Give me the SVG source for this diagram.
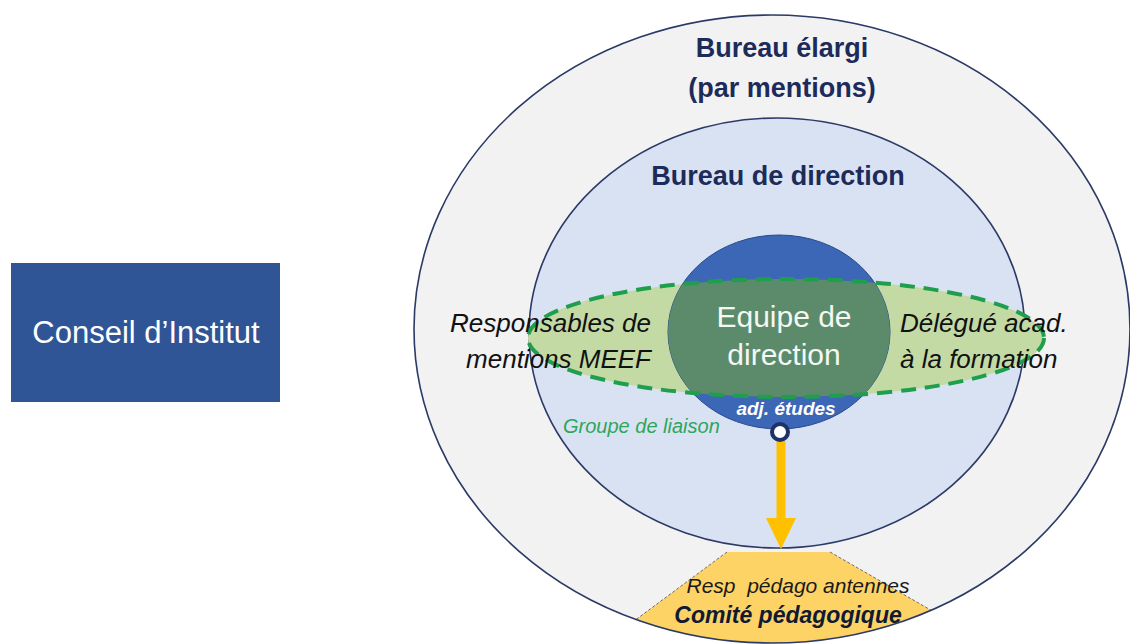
<svg xmlns="http://www.w3.org/2000/svg" width="1130" height="644" viewBox="0 0 1130 644">
  <style>
    .title { font-family: "Liberation Sans", Arial, sans-serif; font-weight: bold; font-size: 27px; fill: #1c2b5a; text-anchor: middle; }
    .side { font-family: "Liberation Sans", Arial, sans-serif; font-style: italic; font-size: 26px; fill: #111; }
    .equipe { font-family: "Liberation Sans", Arial, sans-serif; font-size: 30px; fill: #f4f7f2; text-anchor: middle; }
    .ring { stroke: #2b3a66; stroke-width: 1.6; }
  </style>
  <defs>
    <clipPath id="outerClip"><ellipse cx="772" cy="329" rx="358" ry="314"/></clipPath>
    <clipPath id="greenClip"><ellipse cx="786" cy="338" rx="258" ry="59"/></clipPath>
    <marker id="arrowHead" markerUnits="userSpaceOnUse" markerWidth="32" markerHeight="32" viewBox="0 0 32 32" refX="0" refY="15" orient="auto">
      <path d="M0,0 L31,15 L0,30 Z" fill="#ffc000"/>
    </marker>
  </defs>
  <rect width="1130" height="644" fill="#ffffff"/>

  <g id="conseil-institut">
    <rect x="11" y="263" width="269" height="139" fill="#2f5597"/>
    <text x="146" y="343" font-family="Liberation Sans, Arial, sans-serif" font-size="31" fill="#ffffff" text-anchor="middle">Conseil d’Institut</text>
  </g>

  <g id="bureau-elargi">
    <ellipse cx="772" cy="329" rx="358" ry="314" fill="#f2f2f2"/>
    <text class="title" x="782" y="57">Bureau élargi</text>
    <text class="title" x="782" y="97">(par mentions)</text>
  </g>

  <g id="comite-pedagogique">
    <g clip-path="url(#outerClip)">
      <polygon points="727,552 830,552 1000,650 595,650" fill="#fdd365"/>
      <line x1="727" y1="552" x2="595" y2="650" stroke="#6b6b6b" stroke-width="1" stroke-dasharray="3 2"/>
      <line x1="830" y1="552" x2="1000" y2="650" stroke="#6b6b6b" stroke-width="1" stroke-dasharray="3 2"/>
    </g>
    <text x="798" y="593" font-family="Liberation Sans, Arial, sans-serif" font-style="italic" font-size="21" fill="#1a1a1a" text-anchor="middle" style="white-space:pre">Resp  pédago antennes</text>
    <text x="788" y="623" font-family="Liberation Sans, Arial, sans-serif" font-style="italic" font-weight="bold" font-size="23" fill="#111a33" text-anchor="middle">Comité pédagogique</text>
  </g>

  <ellipse class="ring" cx="772" cy="329" rx="358" ry="314" fill="none"/>

  <g id="bureau-direction">
    <ellipse class="ring" cx="777" cy="333" rx="248" ry="215" fill="#d9e2f3"/>
    <text class="title" x="778" y="185">Bureau de direction</text>
  </g>

  <g id="groupe-liaison">
    <ellipse cx="786" cy="338" rx="258" ry="59" fill="#c4daa5"/>
    <text x="563" y="433" font-family="Liberation Sans, Arial, sans-serif" font-style="italic" font-size="20" fill="#2ea65a">Groupe de liaison</text>
  </g>

  <g id="equipe-direction">
    <ellipse cx="779" cy="332" rx="111" ry="97" fill="#3c66b6" stroke="#2b4a8c" stroke-width="1"/>
    <ellipse cx="779" cy="332" rx="111" ry="97" fill="#5c8b6c" clip-path="url(#greenClip)"/>
    <text class="equipe" x="784" y="327">Equipe de</text>
    <text class="equipe" x="784" y="365">direction</text>
    <text x="786" y="415" font-family="Liberation Sans, Arial, sans-serif" font-style="italic" font-weight="bold" font-size="19" fill="#ffffff" text-anchor="middle">adj. études</text>
  </g>

  <ellipse cx="786" cy="338" rx="258" ry="59" fill="none" stroke="#1f9e4e" stroke-width="4" stroke-dasharray="15 9"/>

  <g id="responsables-mentions">
    <text class="side" x="651" y="332" text-anchor="end">Responsables de</text>
    <text class="side" x="651" y="368" text-anchor="end">mentions MEEF</text>
  </g>

  <g id="delegue-academique">
    <text class="side" x="900" y="332">Délégué acad.</text>
    <text class="side" x="900" y="368">à la formation</text>
  </g>

  <g id="connectors">
    <line x1="781" y1="441" x2="781" y2="518" stroke="#ffc000" stroke-width="9" marker-end="url(#arrowHead)"/>
    <circle cx="780" cy="432" r="8" fill="#ffffff" stroke="#1f3267" stroke-width="4"/>
  </g>
</svg>
